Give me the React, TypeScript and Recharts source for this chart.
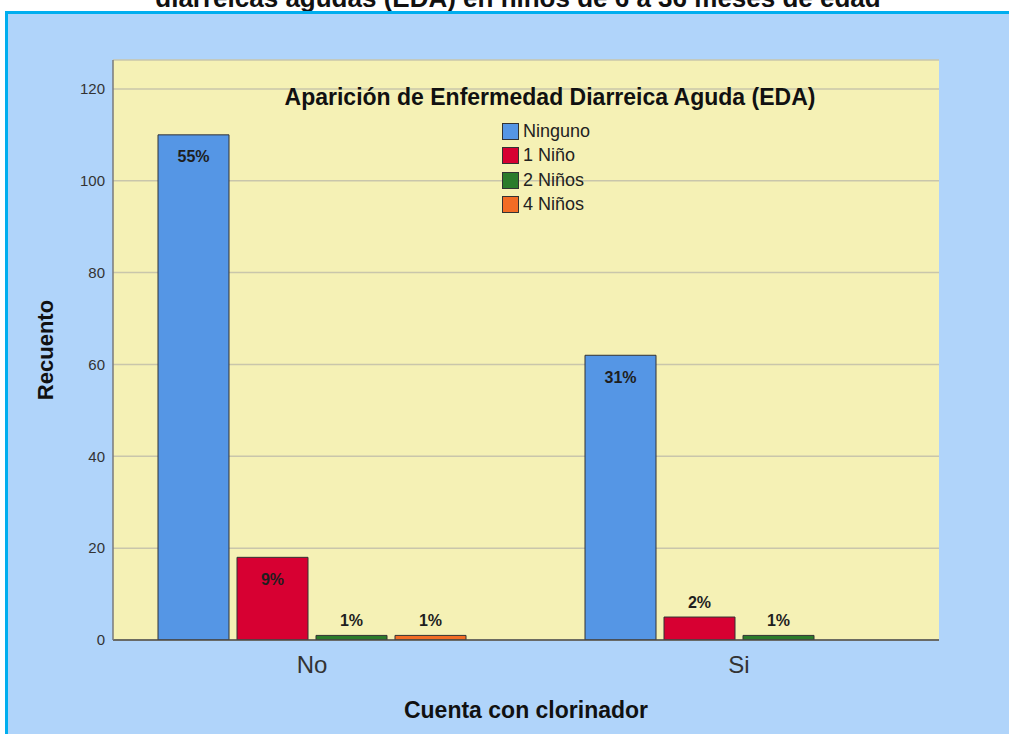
import React from 'react';
import { BarChart, Bar, XAxis, YAxis, CartesianGrid, Legend, LabelList } from 'recharts';

const categories = ['No', 'Si'];
const seriesNames = ['Ninguno', '1 Niño', '2 Niños', '4 Niños'];
const ninguno = [110, 62];
const unNino = [18, 5];
const dosNinos = [1, 1];
const cuatroNinos = [1, 0];
const pctNinguno = ['55%', '31%'];
const pctUnNino = ['9%', '2%'];
const pctDosNinos = ['1%', '1%'];
const pctCuatroNinos = ['1%', ''];
const yTicks = [0, 20, 40, 60, 80, 100, 120];

const colors = ['#5596e5', '#d70032', '#2b7b2b', '#f26c25'];
const FONT = "Arial, 'Liberation Sans', sans-serif";

const data = categories.map((c, i) => ({
  cat: c,
  s0: ninguno[i],
  s1: unNino[i],
  s2: dosNinos[i],
  s3: cuatroNinos[i],
  p0: pctNinguno[i],
  p1: pctUnNino[i],
  p2: pctDosNinos[i],
  p3: pctCuatroNinos[i],
}));

const renderPct = (props: any) => {
  const { x, y, width, height, value } = props;
  if (!value || !height) return null;
  const inside = height > 30;
  const ty = inside ? y + 22 : y - 15;
  return (
    <text
      x={x + width / 2}
      y={ty}
      textAnchor="middle"
      dominantBaseline="central"
      fontFamily={FONT}
      fontWeight="bold"
      fontSize={16}
      fill="#1e1e1e"
    >
      {value}
    </text>
  );
};

const renderLegend = () => (
  <div style={{ position: 'relative', width: 560, height: 140, fontFamily: FONT }}>
    <div
      style={{
        position: 'absolute',
        left: 0,
        top: 0,
        width: 560,
        textAlign: 'center',
        fontWeight: 'bold',
        fontSize: 23,
        color: '#111',
        lineHeight: '26px',
      }}
    >
      Aparición de Enfermedad Diarreica Aguda (EDA)
    </div>
    {seriesNames.map((n, i) => (
      <div
        key={n}
        style={{
          position: 'absolute',
          left: 232,
          top: 37 + i * 24.5,
          height: 20,
          display: 'flex',
          alignItems: 'center',
        }}
      >
        <div
          style={{
            width: 17,
            height: 17,
            background: colors[i],
            border: '1px solid #333',
            boxSizing: 'border-box',
            marginRight: 4,
          }}
        />
        <span style={{ fontSize: 18, color: '#222' }}>{n}</span>
      </div>
    ))}
  </div>
);

export default function App() {
  return (
    <div
      style={{
        position: 'absolute',
        left: 0,
        top: 0,
        width: 1009,
        height: 734,
        overflow: 'hidden',
        background: '#ffffff',
      }}
    >
      <div
        style={{
          position: 'absolute',
          left: 0,
          top: -15,
          width: 1036,
          textAlign: 'center',
          fontFamily: FONT,
          fontWeight: 'bold',
          fontSize: 26,
          color: '#111',
          lineHeight: '26px',
          whiteSpace: 'nowrap',
        }}
      >
        diarreicas agudas (EDA) en niños de 6 a 36 meses de edad
      </div>
      <div
        style={{
          position: 'absolute',
          left: 5,
          top: 11,
          width: 1100,
          height: 800,
          background: '#b0d4fa',
          borderTop: '3px solid #00aeef',
          borderLeft: '3px solid #00aeef',
        }}
      />
      <div
        style={{
          position: 'absolute',
          left: 46,
          top: 350,
          transform: 'translate(-50%, -50%) rotate(-90deg)',
          fontFamily: FONT,
          fontWeight: 'bold',
          fontSize: 22,
          color: '#111',
          whiteSpace: 'nowrap',
        }}
      >
        Recuento
      </div>
      <div
        style={{
          position: 'absolute',
          left: 526,
          top: 710,
          transform: 'translate(-50%, -50%)',
          fontFamily: FONT,
          fontWeight: 'bold',
          fontSize: 23,
          color: '#111',
          whiteSpace: 'nowrap',
        }}
      >
        Cuenta con clorinador
      </div>
      <div style={{ position: 'absolute', left: 0, top: 0 }}>
        <BarChart
          width={1009}
          height={734}
          data={data}
          margin={{ top: 60, right: 70, bottom: 54, left: 53 }}
          barCategoryGap={59.5}
          barGap={8}
        >
          <CartesianGrid
            horizontal={true}
            vertical={false}
            fill="#f5f1b5"
            stroke="#c9c6ab"
            strokeWidth={1.5}
          />
          <XAxis
            dataKey="cat"
            height={40}
            padding={{ left: -14.5, right: -13.5 }}
            axisLine={{ stroke: '#4a4a4a', strokeWidth: 1.5 }}
            tickLine={false}
            tickMargin={10}
            tick={{ fontFamily: FONT, fontSize: 24, fill: '#333' }}
          />
          <YAxis
            width={60}
            domain={[0, 126.3]}
            ticks={yTicks}
            allowDataOverflow={true}
            axisLine={{ stroke: '#7a7a7a', strokeWidth: 1.5 }}
            tickLine={false}
            tick={{ fontFamily: FONT, fontSize: 15, fill: '#333' }}
          />
          <Legend
            layout="vertical"
            verticalAlign="middle"
            align="center"
            wrapperStyle={{ position: 'absolute', left: 270, top: 84, width: 560, height: 140 }}
            content={renderLegend}
          />
          {seriesNames.map((n, i) => (
            <Bar
              key={n}
              dataKey={'s' + i}
              name={n}
              fill={colors[i]}
              stroke="#333"
              strokeWidth={1}
              isAnimationActive={false}
            >
              <LabelList dataKey={'p' + i} content={renderPct} />
            </Bar>
          ))}
        </BarChart>
      </div>
    </div>
  );
}
